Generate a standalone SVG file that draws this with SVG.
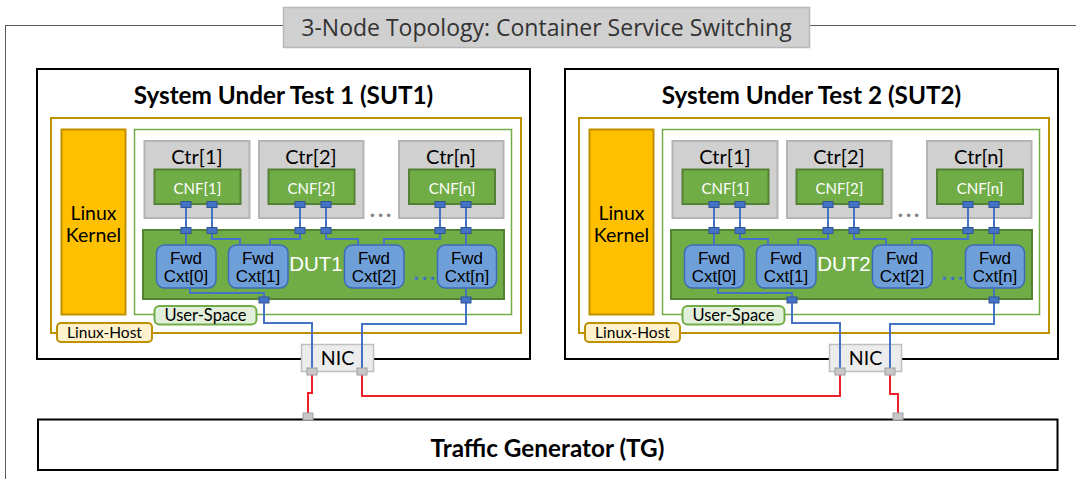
<svg xmlns="http://www.w3.org/2000/svg" width="1076" height="479" viewBox="0 0 1076 479">
<style>
.frame{fill:none;stroke:#5a5a5a;stroke-width:1}
.ttlbox{fill:#d0d0d0;stroke:#b8b8b8;stroke-width:1.5}
.ttl{font-family:"Open Sans","Noto Sans",sans-serif;font-size:23px;fill:#333}
.sut{fill:#fff;stroke:#000;stroke-width:2}
.sutt{font-family:Lato,"Liberation Sans",sans-serif;font-size:24.3px;font-weight:bold;fill:#000;text-anchor:middle}
.host{fill:none;stroke:#bf9000;stroke-width:2}
.hostlbl{fill:#fff2cc;stroke:#bf9000;stroke-width:2}
.kern{fill:#ffc000;stroke:#bf9000;stroke-width:2}
.us{fill:none;stroke:#70ad47;stroke-width:1.5}
.uslbl{fill:#e2efda;stroke:#70ad47;stroke-width:2}
.ctr{fill:#d0d0d0;stroke:#b4b4b4;stroke-width:2}
.grn{fill:#70ad47;stroke:#548235;stroke-width:2}
.fwd{fill:#6f9fd8;stroke:#3c6bb8;stroke-width:1.5}
.t{font-family:Lato,"Liberation Sans",sans-serif;fill:#000;text-anchor:middle}
.a{font-family:"Liberation Sans",Arial,sans-serif;text-anchor:middle}
.w{fill:#fff}
.gd{fill:#808080;letter-spacing:3px;font-weight:bold}
.bd{fill:#4472c4;letter-spacing:3px;font-weight:bold}
.bp{fill:#4472c4;stroke:#2f5597;stroke-width:1}
.gp{fill:#c8c8c8;stroke:#a0a0a0;stroke-width:1}
.nic{fill:#ececec;stroke:#bfbfbf;stroke-width:1.5}
.bl{fill:none;stroke:#4472c4;stroke-width:2}
.rd{fill:none;stroke:#f0202a;stroke-width:2}
.tg{fill:#fff;stroke:#000;stroke-width:2}
</style>

<rect class="frame" x="5.5" y="25.5" width="1100" height="500"/>
<g id="title">
<rect class="ttlbox" x="283.5" y="7.5" width="526" height="40"/>
<text class="ttl" x="546.5" y="35.5" text-anchor="middle">3-Node Topology: Container Service Switching</text>
</g>

<!-- SUT1 -->
<g id="sut1">
<rect class="sut" x="37" y="69" width="493" height="290"/>
<text class="sutt" x="283.5" y="104">System Under Test 1 (SUT1)</text>
</g>
<g id="sut1-host">
<rect class="host" x="51" y="118" width="470" height="215"/>
<rect class="hostlbl" x="57" y="323" width="95" height="19" rx="4"/>
<text class="t" x="104.5" y="338" font-size="15.5">Linux-Host</text>
</g>
<g id="sut1-kernel">
<rect class="kern" x="61.5" y="129.5" width="64" height="185"/>
<text class="t" x="93.5" y="220" font-size="19.5">Linux</text>
<text class="t" x="93.5" y="242" font-size="19.5">Kernel</text>
</g>
<g id="sut1-userspace">
<rect class="us" x="134.5" y="129.5" width="377" height="185"/>
<rect class="uslbl" x="154.5" y="306" width="102" height="18.5" rx="5"/>
<text class="t" x="205.5" y="321" font-size="16.5">User-Space</text>
</g>
<g id="sut1-ctr1">
<rect class="ctr" x="144.5" y="141" width="105" height="77"/>
<text class="t" x="197" y="163.5" font-size="20">Ctr[1]</text>
<rect class="grn" x="154.5" y="169.5" width="86" height="34.5"/>
<text class="t w" x="197.5" y="193.5" font-size="15">CNF[1]</text>
</g>
<g id="sut1-ctr2">
<rect class="ctr" x="259" y="141" width="104.5" height="77"/>
<text class="t" x="311" y="163.5" font-size="20">Ctr[2]</text>
<rect class="grn" x="268.5" y="169.5" width="86" height="34.5"/>
<text class="t w" x="311.5" y="193.5" font-size="15">CNF[2]</text>
</g>
<g id="sut1-ctrn">
<rect class="ctr" x="399" y="141" width="104.5" height="77"/>
<text class="t" x="451" y="163.5" font-size="20">Ctr[n]</text>
<rect class="grn" x="409" y="169.5" width="86" height="34.5"/>
<text class="t w" x="452" y="193.5" font-size="15">CNF[n]</text>
</g>
<text class="t gd" x="382" y="216.5" font-size="22">...</text>
<g id="sut1-dut">
<rect class="grn" x="143" y="230" width="361" height="69"/>
<text class="a w" x="316" y="271" font-size="20.5">DUT1</text>
</g>
<g id="sut1-fwd0">
<rect class="fwd" x="156.5" y="245" width="59.5" height="43" rx="8"/>
<text class="a" x="186" y="264" font-size="17">Fwd</text>
<text class="a" x="186" y="282" font-size="17">Cxt[0]</text>
</g>
<g id="sut1-fwd1">
<rect class="fwd" x="228.5" y="245" width="59.5" height="43" rx="8"/>
<text class="a" x="258" y="264" font-size="17">Fwd</text>
<text class="a" x="258" y="282" font-size="17">Cxt[1]</text>
</g>
<g id="sut1-fwd2">
<rect class="fwd" x="344.5" y="245" width="59.5" height="43" rx="8"/>
<text class="a" x="374" y="264" font-size="17">Fwd</text>
<text class="a" x="374" y="282" font-size="17">Cxt[2]</text>
</g>
<g id="sut1-fwdn">
<rect class="fwd" x="437.5" y="245" width="59" height="43" rx="8"/>
<text class="a" x="467" y="264" font-size="17">Fwd</text>
<text class="a" x="467" y="282" font-size="17">Cxt[n]</text>
</g>
<text class="t bd" x="426" y="280" font-size="22">...</text>

<!-- SUT2 -->
<g id="sut2">
<rect class="sut" x="565" y="69" width="493" height="290"/>
<text class="sutt" x="811.5" y="104">System Under Test 2 (SUT2)</text>
</g>
<g id="sut2-host">
<rect class="host" x="579" y="118" width="470" height="215"/>
<rect class="hostlbl" x="585" y="323" width="95" height="19" rx="4"/>
<text class="t" x="632.5" y="338" font-size="15.5">Linux-Host</text>
</g>
<g id="sut2-kernel">
<rect class="kern" x="589.5" y="129.5" width="64" height="185"/>
<text class="t" x="621.5" y="220" font-size="19.5">Linux</text>
<text class="t" x="621.5" y="242" font-size="19.5">Kernel</text>
</g>
<g id="sut2-userspace">
<rect class="us" x="662.5" y="129.5" width="377" height="185"/>
<rect class="uslbl" x="682.5" y="306" width="102" height="18.5" rx="5"/>
<text class="t" x="733.5" y="321" font-size="16.5">User-Space</text>
</g>
<g id="sut2-ctr1">
<rect class="ctr" x="672.5" y="141" width="105" height="77"/>
<text class="t" x="725" y="163.5" font-size="20">Ctr[1]</text>
<rect class="grn" x="682.5" y="169.5" width="86" height="34.5"/>
<text class="t w" x="725.5" y="193.5" font-size="15">CNF[1]</text>
</g>
<g id="sut2-ctr2">
<rect class="ctr" x="787" y="141" width="104.5" height="77"/>
<text class="t" x="839" y="163.5" font-size="20">Ctr[2]</text>
<rect class="grn" x="796.5" y="169.5" width="86" height="34.5"/>
<text class="t w" x="839.5" y="193.5" font-size="15">CNF[2]</text>
</g>
<g id="sut2-ctrn">
<rect class="ctr" x="927" y="141" width="104.5" height="77"/>
<text class="t" x="979" y="163.5" font-size="20">Ctr[n]</text>
<rect class="grn" x="937" y="169.5" width="86" height="34.5"/>
<text class="t w" x="980" y="193.5" font-size="15">CNF[n]</text>
</g>
<text class="t gd" x="910" y="216.5" font-size="22">...</text>
<g id="sut2-dut">
<rect class="grn" x="671" y="230" width="361" height="69"/>
<text class="a w" x="844" y="271" font-size="20.5">DUT2</text>
</g>
<g id="sut2-fwd0">
<rect class="fwd" x="684.5" y="245" width="59.5" height="43" rx="8"/>
<text class="a" x="714" y="264" font-size="17">Fwd</text>
<text class="a" x="714" y="282" font-size="17">Cxt[0]</text>
</g>
<g id="sut2-fwd1">
<rect class="fwd" x="756.5" y="245" width="59.5" height="43" rx="8"/>
<text class="a" x="786" y="264" font-size="17">Fwd</text>
<text class="a" x="786" y="282" font-size="17">Cxt[1]</text>
</g>
<g id="sut2-fwd2">
<rect class="fwd" x="872.5" y="245" width="59.5" height="43" rx="8"/>
<text class="a" x="902" y="264" font-size="17">Fwd</text>
<text class="a" x="902" y="282" font-size="17">Cxt[2]</text>
</g>
<g id="sut2-fwdn">
<rect class="fwd" x="965.5" y="245" width="59" height="43" rx="8"/>
<text class="a" x="995" y="264" font-size="17">Fwd</text>
<text class="a" x="995" y="282" font-size="17">Cxt[n]</text>
</g>
<text class="t bd" x="954" y="280" font-size="22">...</text>

<!-- NICs and TG -->
<g id="nic1">
<rect class="nic" x="301.5" y="344.5" width="72" height="27"/>
<text class="t" x="337.5" y="365" font-size="19.5">NIC</text>
</g>
<g id="nic2">
<rect class="nic" x="829.5" y="344.5" width="72" height="27"/>
<text class="t" x="865.5" y="365" font-size="19.5">NIC</text>
</g>
<g id="tg">
<rect class="tg" x="38" y="419.5" width="1019.5" height="50.5"/>
<text class="sutt" x="547.5" y="457">Traffic Generator (TG)</text>
</g>

<!-- connectors -->
<g id="connectors">
<path class="bl" d="M186 207V245M212 207V239H240V245M300 207V239H270V245M326 207V239H358V245M440 207V239H384V245M466 207V245M190 288V293H264V323H312V368M466 288V324H362V368"/>
<path class="bl" d="M714 207V245M740 207V239H768V245M828 207V239H798V245M854 207V239H886V245M968 207V239H912V245M994 207V245M718 288V293H792V323H840V368M994 288V324H890V368"/>
<path class="rd" d="M312 375V393H308V413M362 375V396H840V375M890 375V394H898V413"/>
</g>

<!-- ports -->
<g id="ports-sut1">
<rect class="bp" x="181" y="201.5" width="10" height="6"/>
<rect class="bp" x="207" y="201.5" width="10" height="6"/>
<rect class="bp" x="295" y="201.5" width="10" height="6"/>
<rect class="bp" x="321" y="201.5" width="10" height="6"/>
<rect class="bp" x="435" y="201.5" width="10" height="6"/>
<rect class="bp" x="461" y="201.5" width="10" height="6"/>
<rect class="bp" x="181" y="227.5" width="10" height="6"/>
<rect class="bp" x="207" y="227.5" width="10" height="6"/>
<rect class="bp" x="295" y="227.5" width="10" height="6"/>
<rect class="bp" x="321" y="227.5" width="10" height="6"/>
<rect class="bp" x="435" y="227.5" width="10" height="6"/>
<rect class="bp" x="461" y="227.5" width="10" height="6"/>
<rect class="bp" x="259" y="297" width="10" height="6"/>
<rect class="bp" x="461" y="297" width="10" height="6"/>
</g>
<g id="ports-sut2">
<rect class="bp" x="709" y="201.5" width="10" height="6"/>
<rect class="bp" x="735" y="201.5" width="10" height="6"/>
<rect class="bp" x="823" y="201.5" width="10" height="6"/>
<rect class="bp" x="849" y="201.5" width="10" height="6"/>
<rect class="bp" x="963" y="201.5" width="10" height="6"/>
<rect class="bp" x="989" y="201.5" width="10" height="6"/>
<rect class="bp" x="709" y="227.5" width="10" height="6"/>
<rect class="bp" x="735" y="227.5" width="10" height="6"/>
<rect class="bp" x="823" y="227.5" width="10" height="6"/>
<rect class="bp" x="849" y="227.5" width="10" height="6"/>
<rect class="bp" x="963" y="227.5" width="10" height="6"/>
<rect class="bp" x="989" y="227.5" width="10" height="6"/>
<rect class="bp" x="787" y="297" width="10" height="6"/>
<rect class="bp" x="989" y="297" width="10" height="6"/>
</g>
<g id="ports-nic">
<rect class="gp" x="307" y="368" width="10" height="7"/>
<rect class="gp" x="357" y="368" width="10" height="7"/>
<rect class="gp" x="835" y="368" width="10" height="7"/>
<rect class="gp" x="885" y="368" width="10" height="7"/>
<rect class="gp" x="303" y="413" width="10" height="7"/>
<rect class="gp" x="893" y="413" width="10" height="7"/>
</g>
</svg>
